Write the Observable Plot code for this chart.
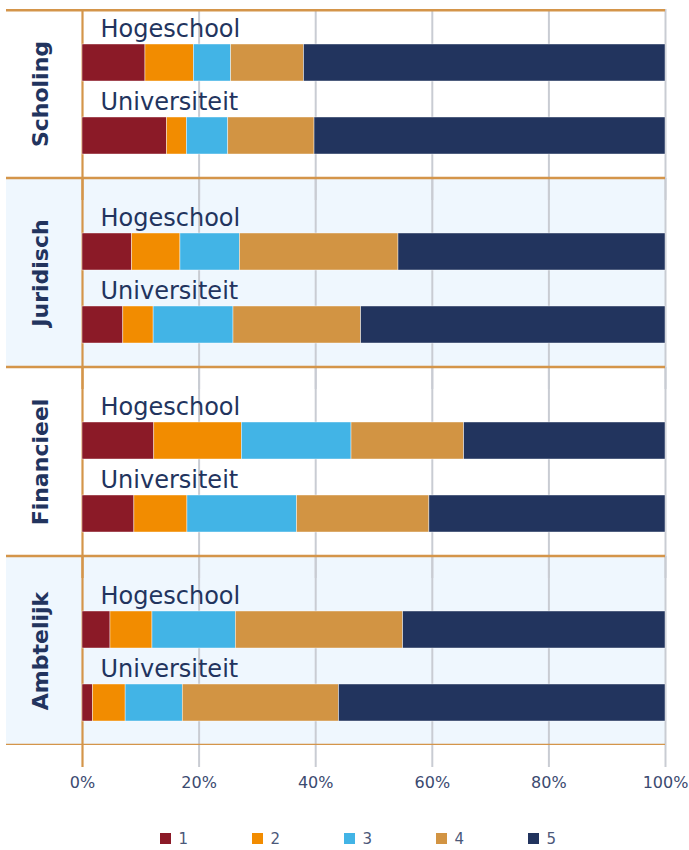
<!DOCTYPE html>
<html>
<head>
<meta charset="utf-8">
<script src="https://cdn.jsdelivr.net/npm/d3@7"></script>
<script src="https://cdn.jsdelivr.net/npm/@observablehq/plot@0.6"></script>
<style>
  html, body { margin: 0; padding: 0; background: #ffffff; }
  body { width: 689px; font-family: "DejaVu Sans", sans-serif; }
  #wrap { margin-top: 9px; overflow: hidden; }
  #wrap svg { display: block; margin-top: -20px; }
  #legend { margin-top: 25px; padding-left: 160px; }
  #legend .lg-swatch { margin-right: 0 !important; width: 92px; color: #4b5879; font-size: 15px; }
</style>
</head>
<body>
<div id="wrap"></div>
<div id="legend"></div>
<script>
// ---- data ----
const groups = ["Scholing", "Juridisch", "Financieel", "Ambtelijk"];
const types = ["Hogeschool", "Universiteit"];
const categories = ["1", "2", "3", "4", "5"];
// values (%) per category, rows in order: Scholing-H, Scholing-U, Juridisch-H, Juridisch-U, Financieel-H, Financieel-U, Ambtelijk-H, Ambtelijk-U
const cat1 = [10.8, 14.5, 8.5, 7.0, 12.3, 8.9, 4.8, 1.8];
const cat2 = [8.3, 3.4, 8.3, 5.2, 15.0, 9.1, 7.2, 5.6];
const cat3 = [6.4, 7.1, 10.2, 13.7, 18.8, 18.8, 14.3, 9.8];
const cat4 = [12.5, 14.8, 27.2, 21.9, 19.3, 22.7, 28.7, 26.8];
const cat5 = [62.0, 60.2, 45.8, 52.2, 34.5, 40.5, 45.0, 56.0];
const xTicks = [0, 0.2, 0.4, 0.6, 0.8, 1];
const tickLabels = ["0%", "20%", "40%", "60%", "80%", "100%"];

const colors = ["#8b1a27", "#f28c00", "#42b4e6", "#d29443", "#22345e"];
const NAVY = "#22345e";
const ORANGE = "#d4954a";
const GRID = "#c9ccd3";
const BG = "#eff7fe";

const series = [cat1, cat2, cat3, cat4, cat5];
const rows = [];
groups.forEach((g, gi) => types.forEach((t, ti) => rows.push({group: g, type: t, idx: gi * 2 + ti})));
const data = [];
rows.forEach(r => categories.forEach((c, ci) => data.push({group: r.group, type: r.type, cat: c, value: series[ci][r.idx]})));

const FH = 189; // facet band height
const chart = Plot.plot({
  width: 689,
  height: FH * 4 + 52,
  marginLeft: 82,
  marginRight: 24,
  marginTop: 0,
  marginBottom: 52,
  style: {fontFamily: "DejaVu Sans, sans-serif", fontSize: "16px", color: "#3b4a70", background: "transparent", overflow: "visible"},
  x: {domain: [0, 1], ticks: xTicks, tickFormat: (d) => tickLabels[xTicks.indexOf(d)], tickSize: 0, tickPadding: 31, label: null},
  y: {domain: types, axis: null, paddingInner: 0.5, paddingOuter: 0, insetTop: 55, insetBottom: 24},
  fy: {domain: groups, axis: null, padding: 0},
  color: {domain: categories, range: colors},
  marks: [
    Plot.rect([groups[1], groups[3]], {fy: (d) => d, fill: BG, insetLeft: -76}),
    Plot.ruleX(xTicks.slice(1), {stroke: GRID, strokeWidth: 2, insetBottom: -22}),
    Plot.ruleX([0], {stroke: ORANGE, strokeWidth: 2.2, insetBottom: -22}),
    Plot.barX(data, Plot.stackX({offset: "normalize", x: "value", y: "type", fy: "group", fill: "cat", stroke: "#ffffff", strokeWidth: 0.6, strokeOpacity: 0.7, order: categories})),
    Plot.text(rows, {fy: "group", y: "type", text: "type", frameAnchor: "left", dx: 18, dy: -34, textAnchor: "start", fontSize: 24, fill: NAVY}),
    Plot.text([groups[0]], {fy: (d) => d, text: (d) => d, frameAnchor: "left", textAnchor: "middle", dx: -42, dy: 10, rotate: -90, fontSize: 22, fontWeight: "bold", fill: NAVY}),
    Plot.text(groups.slice(1), {fy: (d) => d, text: (d) => d, frameAnchor: "left", textAnchor: "middle", dx: -42, rotate: -90, fontSize: 22, fontWeight: "bold", fill: NAVY}),
    Plot.rect(groups, {fy: (d) => d, fill: ORANGE, insetLeft: -76, insetTop: FH - 1.25}),
    Plot.rect(groups.slice(1), {fy: (d) => d, fill: ORANGE, insetLeft: -76, insetBottom: FH - 1.25}),
    Plot.rect([groups[0]], {fy: (d) => d, fill: ORANGE, insetLeft: -76, insetTop: 20, insetBottom: FH - 22.5})
  ]
});
document.getElementById("wrap").appendChild(chart);

const legend = Plot.legend({color: {domain: categories, range: colors}, swatchSize: 11, className: "lg", style: {fontFamily: "DejaVu Sans, sans-serif"}});
document.getElementById("legend").appendChild(legend);
</script>
</body>
</html>
